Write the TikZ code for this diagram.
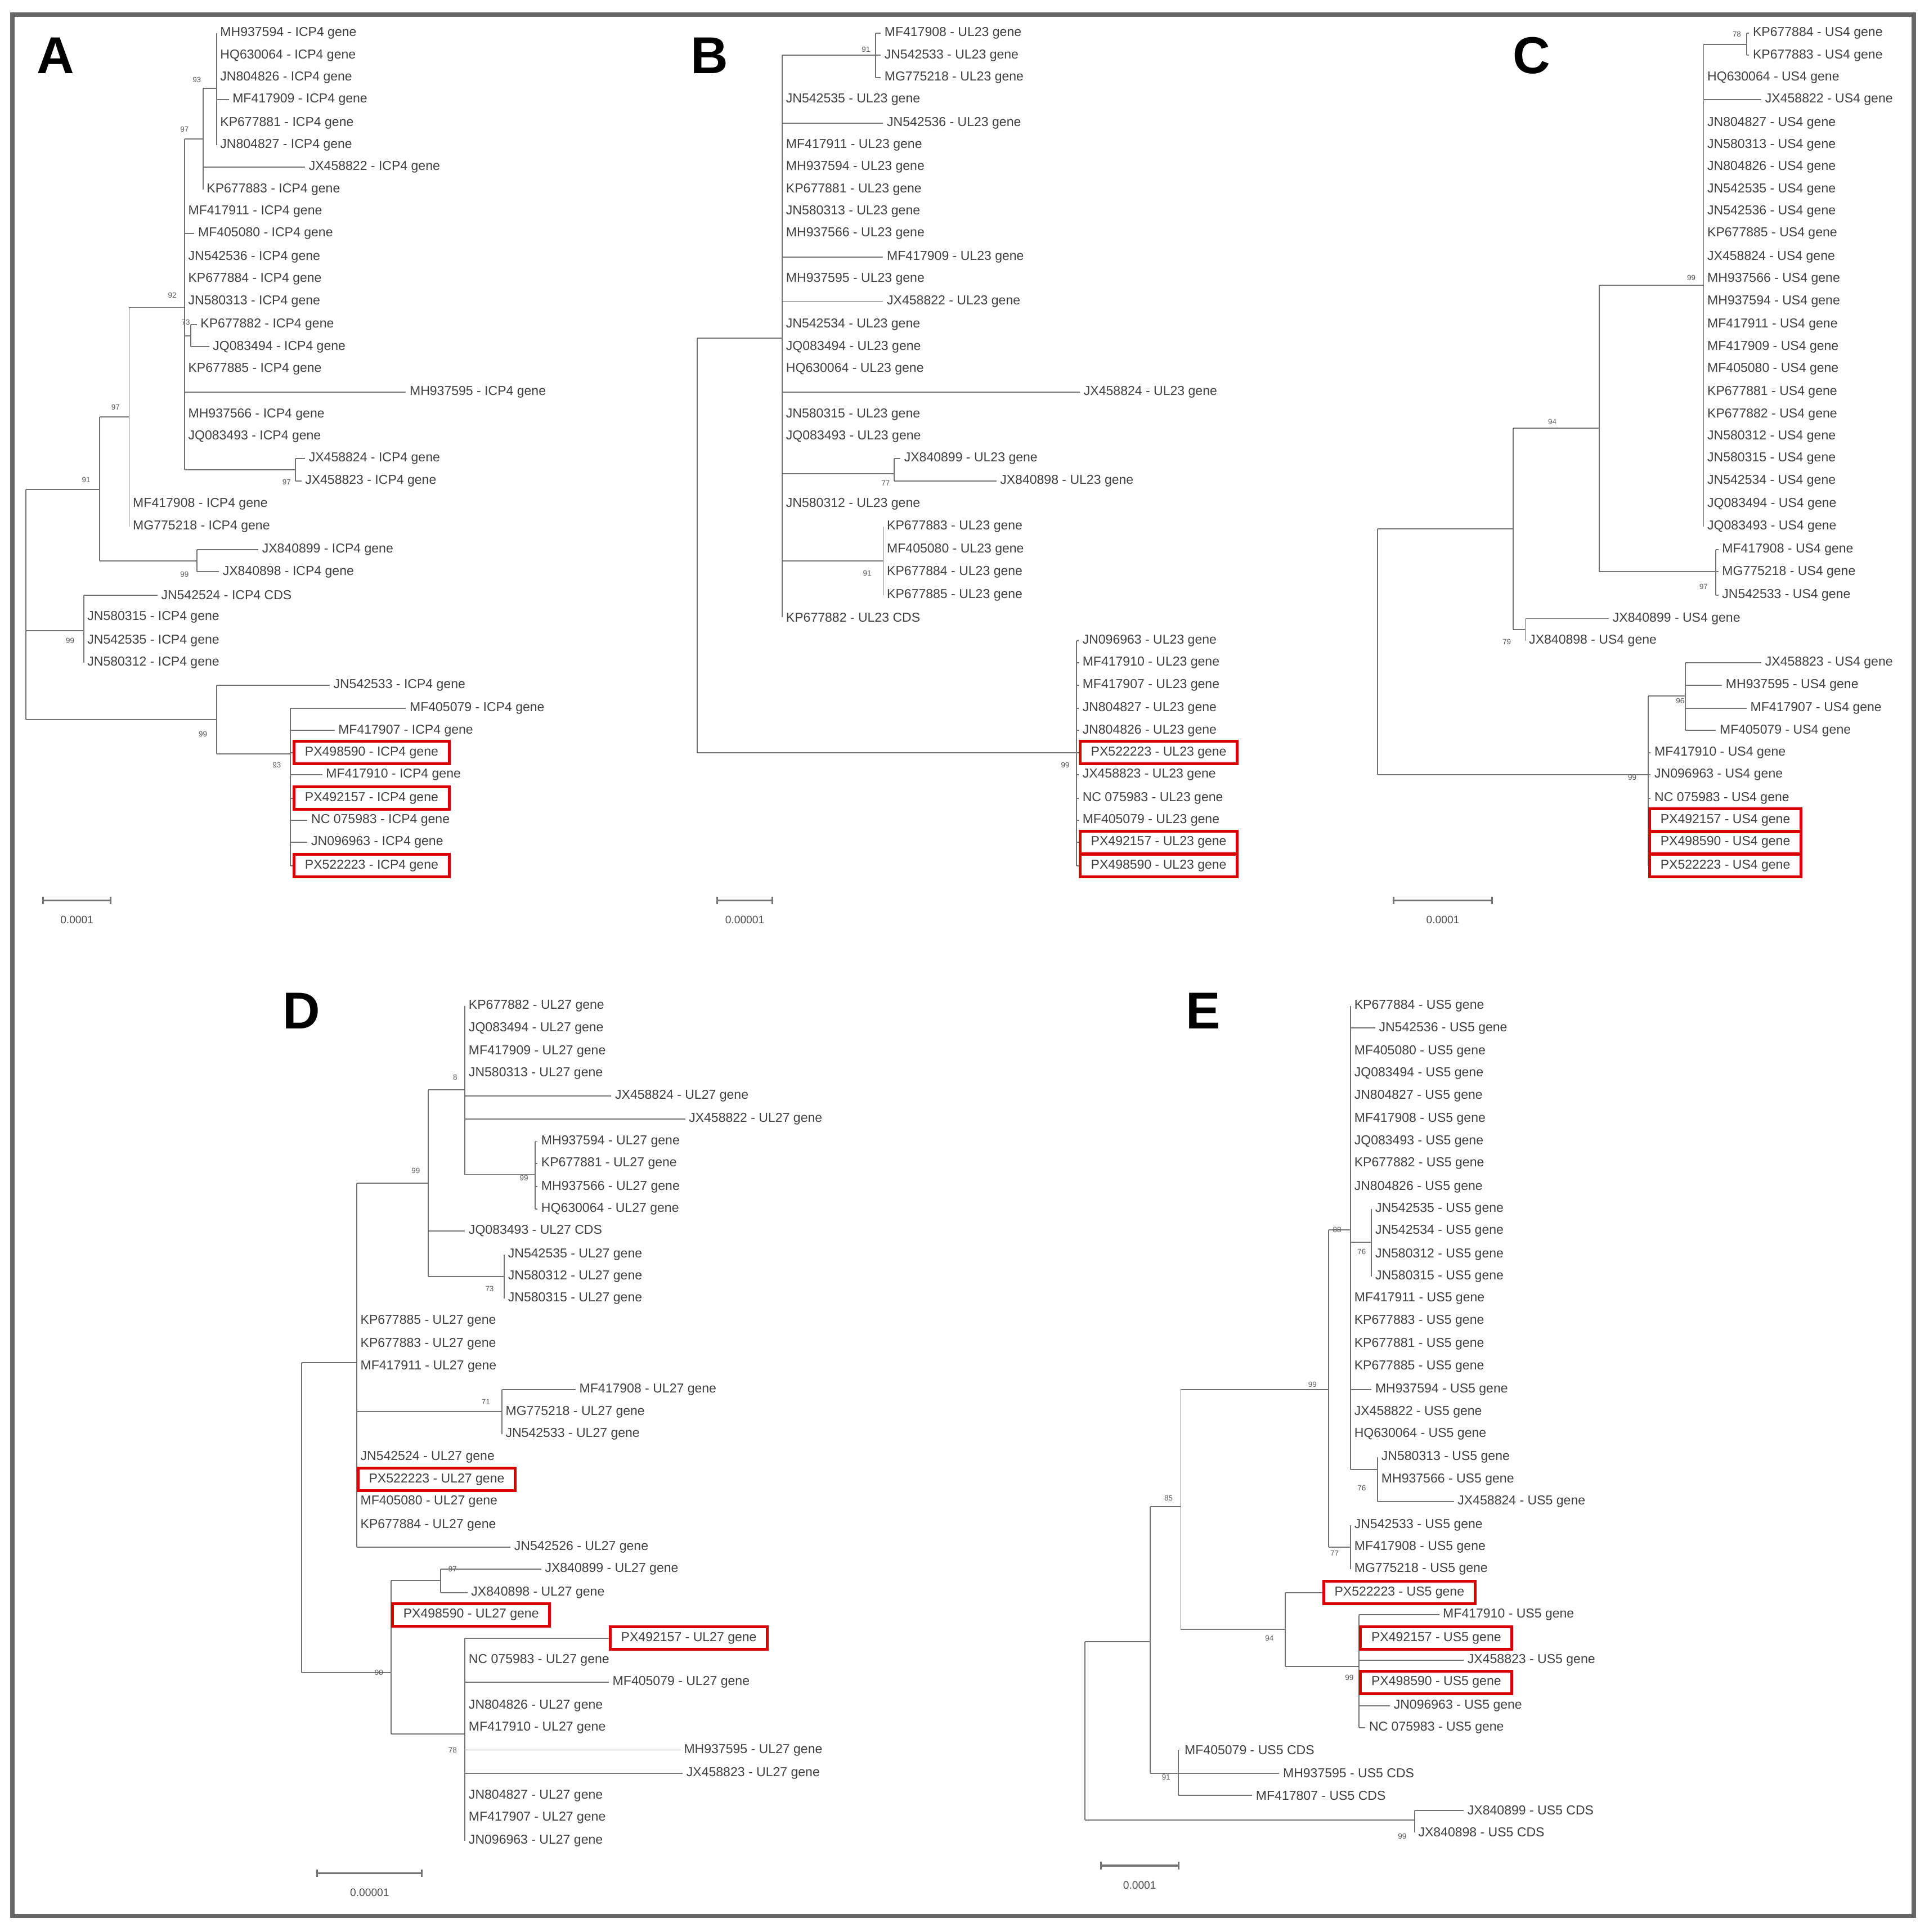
\documentclass[tikz,border=0pt]{standalone}
\usepackage{fontspec}
\setmainfont{Liberation Sans}
\newcounter{lf}
\tikzset{
 br/.style={draw=black!55,line width=0.5pt},
 lab/.style={anchor=west,inner sep=1.5pt,text=black!75,font=\fontsize{6}{7}\selectfont},
 labbox/.style={lab,draw=red!85!black,line width=1.3pt,inner xsep=5pt,inner ysep=2.5pt},
 bsl/.style={text=black!65,font=\fontsize{3.5}{4}\selectfont,inner sep=0.5pt},
 pl/.style={font=\fontsize{24}{26}\selectfont\bfseries,inner sep=0pt},
 sc/.style={text=black!70,font=\fontsize{5}{6}\selectfont,inner sep=1pt}
}
\newcommand\lf[4]{\stepcounter{lf}\draw[br] (#1,#3) -- (#2,#3) node[lab,name=n\arabic{lf}]{#4};}
\newcommand\lfb[4]{\stepcounter{lf}\draw[br] (#1,#3) -- (#2,#3) node[labbox,name=n\arabic{lf}]{#4};}
\newcommand\vl[3]{\draw[br] (#1,#2) -- (#1,#3);}
\newcommand\hl[3]{\draw[br] (#1,#3) -- (#2,#3);}
\newcommand\bs[3]{\stepcounter{lf}\node[bsl,name=n\arabic{lf}] at (#1,#2) {#3};}
\newcommand\scb[4]{\stepcounter{lf}\draw[black!55,line width=0.8pt] (#1,#3-3) -- (#1,#3+3) (#1,#3) -- (#2,#3) (#2,#3-3) -- (#2,#3+3);
 \node[sc,name=n\arabic{lf}] at ({(#1+#2)/2},#3+16) {#4};}
\begin{document}
\begin{tikzpicture}[x=0.02cm,y=-0.02cm]
\useasboundingbox (0,0) rectangle (1568,1571);
\fill[white] (0,0) rectangle (1568,1571);
\draw[black!60,line width=2pt] (10,12) rectangle (1556,1558);
% ===================== A =====================
\node[pl,name=pA] at (45,45) {A};
\def\g{ - ICP4 gene}
\vl{176}{27}{118}
\lf{176}{176}{27}{MH937594\g}
\lf{176}{176}{45}{HQ630064\g}
\lf{176}{176}{63}{JN804826\g}
\lf{176}{186}{81}{MF417909\g}
\lf{176}{176}{100}{KP677881\g}
\lf{176}{176}{118}{JN804827\g}
\hl{165}{176}{72}
\vl{165}{72}{154}
\lf{165}{248}{136}{JX458822\g}
\lf{165}{165}{154}{KP677883\g}
\bs{160}{65}{93}
\hl{150}{165}{113}
\bs{150}{105}{97}
\vl{150}{113}{382}
\lf{150}{150}{172}{MF417911\g}
\lf{150}{158}{190}{MF405080\g}
\lf{150}{150}{209}{JN542536\g}
\lf{150}{150}{227}{KP677884\g}
\lf{150}{150}{245}{JN580313\g}
\hl{150}{155}{273}
\vl{155}{264}{282}
\lf{155}{160}{264}{KP677882\g}
\lf{155}{170}{282}{JQ083494\g}
\bs{151}{262}{73}
\lf{150}{150}{300}{KP677885\g}
\lf{150}{330}{319}{MH937595\g}
\lf{150}{150}{337}{MH937566\g}
\lf{150}{150}{355}{JQ083493\g}
\hl{150}{240}{382}
\vl{240}{373}{391}
\lf{240}{248}{373}{JX458824\g}
\lf{240}{245}{391}{JX458823\g}
\bs{233}{392}{97}
\hl{105}{150}{250}
\bs{140}{240}{92}
\vl{105}{250}{428}
\lf{105}{105}{410}{MF417908\g}
\lf{105}{105}{428}{MG775218\g}
\hl{81}{105}{339}
\bs{94}{331}{97}
\vl{81}{339}{456}
\hl{81}{160}{456}
\vl{160}{447}{465}
\lf{160}{210}{447}{JX840899\g}
\lf{160}{178}{465}{JX840898\g}
\bs{150}{467}{99}
\hl{21}{81}{398}
\bs{70}{390}{91}
\vl{21}{398}{585}
\hl{21}{68}{513}
\vl{68}{484}{539}
\lf{68}{128}{484}{JN542524 - ICP4 CDS}
\lf{68}{68}{502}{JN580315\g}
\lf{68}{68}{521}{JN542535\g}
\lf{68}{68}{539}{JN580312\g}
\bs{57}{521}{99}
\hl{21}{176}{585}
\bs{165}{597}{99}
\vl{176}{557}{613}
\lf{176}{268}{557}{JN542533\g}
\hl{176}{236}{613}
\bs{225}{622}{93}
\vl{236}{576}{704}
\lf{236}{330}{576}{MF405079\g}
\lf{236}{272}{594}{MF417907\g}
\lfb{236}{238}{612}{PX498590\g}
\lf{236}{262}{630}{MF417910\g}
\lfb{236}{238}{649}{PX492157\g}
\lf{236}{250}{667}{NC 075983\g}
\lf{236}{250}{685}{JN096963\g}
\lfb{236}{238}{704}{PX522223\g}
\scb{35}{90}{732}{0.0001}
% ===================== B =====================
\node[pl,name=pB] at (577,45) {B};
\def\g{ - UL23 gene}
\vl{712}{27}{63}
\lf{712}{716}{27}{MF417908\g}
\lf{712}{716}{45}{JN542533\g}
\lf{712}{716}{63}{MG775218\g}
\bs{704}{40}{91}
\hl{636}{712}{45}
\vl{636}{45}{502}
\lf{636}{636}{81}{JN542535\g}
\lf{636}{718}{100}{JN542536\g}
\lf{636}{636}{118}{MF417911\g}
\lf{636}{636}{136}{MH937594\g}
\lf{636}{636}{154}{KP677881\g}
\lf{636}{636}{172}{JN580313\g}
\lf{636}{636}{190}{MH937566\g}
\lf{636}{718}{209}{MF417909\g}
\lf{636}{636}{227}{MH937595\g}
\lf{636}{718}{245}{JX458822\g}
\lf{636}{636}{264}{JN542534\g}
\lf{636}{636}{282}{JQ083494\g}
\lf{636}{636}{300}{HQ630064\g}
\lf{636}{878}{319}{JX458824\g}
\lf{636}{636}{337}{JN580315\g}
\lf{636}{636}{355}{JQ083493\g}
\hl{636}{727}{385}
\vl{727}{373}{391}
\lf{727}{732}{373}{JX840899\g}
\lf{727}{810}{391}{JX840898\g}
\bs{720}{393}{77}
\lf{636}{636}{410}{JN580312\g}
\hl{636}{718}{456}
\vl{718}{428}{484}
\lf{718}{718}{428}{KP677883\g}
\lf{718}{718}{447}{MF405080\g}
\lf{718}{718}{465}{KP677884\g}
\lf{718}{718}{484}{KP677885\g}
\bs{705}{466}{91}
\lf{636}{636}{502}{KP677882 - UL23 CDS}
\hl{567}{636}{275}
\vl{567}{275}{612}
\hl{567}{875}{612}
\bs{866}{622}{99}
\vl{875}{521}{704}
\lf{875}{877}{521}{JN096963\g}
\lf{875}{877}{539}{MF417910\g}
\lf{875}{877}{557}{MF417907\g}
\lf{875}{877}{576}{JN804827\g}
\lf{875}{877}{594}{JN804826\g}
\lfb{875}{877}{612}{PX522223\g}
\lf{875}{877}{630}{JX458823\g}
\lf{875}{877}{649}{NC 075983\g}
\lf{875}{877}{667}{MF405079\g}
\lfb{875}{877}{685}{PX492157\g}
\lfb{875}{877}{704}{PX498590\g}
\scb{583}{628}{732}{0.00001}
% ===================== C =====================
\node[pl,name=pC] at (1245,45) {C};
\def\g{ - US4 gene}
\hl{1385}{1420}{36}
\vl{1420}{27}{45}
\lf{1420}{1422}{27}{KP677884\g}
\lf{1420}{1422}{45}{KP677883\g}
\bs{1412}{28}{78}
\vl{1385}{36}{428}
\lf{1385}{1385}{63}{HQ630064\g}
\lf{1385}{1432}{81}{JX458822\g}
\lf{1385}{1385}{100}{JN804827\g}
\lf{1385}{1385}{118}{JN580313\g}
\lf{1385}{1385}{136}{JN804826\g}
\lf{1385}{1385}{154}{JN542535\g}
\lf{1385}{1385}{172}{JN542536\g}
\lf{1385}{1385}{190}{KP677885\g}
\lf{1385}{1385}{209}{JX458824\g}
\lf{1385}{1385}{227}{MH937566\g}
\lf{1385}{1385}{245}{MH937594\g}
\lf{1385}{1385}{264}{MF417911\g}
\lf{1385}{1385}{282}{MF417909\g}
\lf{1385}{1385}{300}{MF405080\g}
\lf{1385}{1385}{319}{KP677881\g}
\lf{1385}{1385}{337}{KP677882\g}
\lf{1385}{1385}{355}{JN580312\g}
\lf{1385}{1385}{373}{JN580315\g}
\lf{1385}{1385}{391}{JN542534\g}
\lf{1385}{1385}{410}{JQ083494\g}
\lf{1385}{1385}{428}{JQ083493\g}
\hl{1300}{1385}{232}
\bs{1375}{226}{99}
\vl{1300}{232}{465}
\hl{1300}{1395}{465}
\vl{1395}{447}{484}
\lf{1395}{1397}{447}{MF417908\g}
\lf{1395}{1397}{465}{MG775218\g}
\lf{1395}{1397}{484}{JN542533\g}
\bs{1385}{477}{97}
\hl{1230}{1300}{348}
\bs{1262}{343}{94}
\vl{1230}{348}{512}
\hl{1230}{1240}{512}
\vl{1240}{503}{521}
\lf{1240}{1308}{503}{JX840899\g}
\lf{1240}{1240}{521}{JX840898\g}
\bs{1225}{522}{79}
\hl{1120}{1230}{430}
\vl{1120}{430}{630}
\hl{1120}{1340}{630}
\bs{1327}{632}{99}
\vl{1340}{566}{704}
\hl{1340}{1370}{566}
\vl{1370}{539}{594}
\lf{1370}{1432}{539}{JX458823\g}
\lf{1370}{1400}{557}{MH937595\g}
\lf{1370}{1420}{576}{MF417907\g}
\lf{1370}{1395}{594}{MF405079\g}
\bs{1366}{570}{96}
\lf{1340}{1342}{612}{MF417910\g}
\lf{1340}{1342}{630}{JN096963\g}
\lf{1340}{1342}{649}{NC 075983\g}
\lfb{1340}{1340}{667}{PX492157\g}
\lfb{1340}{1340}{685}{PX498590\g}
\lfb{1340}{1340}{704}{PX522223\g}
\scb{1133}{1213}{732}{0.0001}
% ===================== D =====================
\node[pl,name=pD] at (245,822) {D};
\def\g{ - UL27 gene}
\vl{378}{818}{955}
\lf{378}{378}{818}{KP677882\g}
\lf{378}{378}{836}{JQ083494\g}
\lf{378}{378}{855}{MF417909\g}
\lf{378}{378}{873}{JN580313\g}
\lf{378}{497}{891}{JX458824\g}
\lf{378}{557}{910}{JX458822\g}
\bs{370}{876}{8}
\hl{378}{435}{955}
\vl{435}{928}{983}
\lf{435}{437}{928}{MH937594\g}
\lf{435}{437}{946}{KP677881\g}
\lf{435}{437}{965}{MH937566\g}
\lf{435}{437}{983}{HQ630064\g}
\bs{426}{958}{99}
\hl{348}{378}{886}
\vl{348}{886}{1038}
\lf{348}{378}{1001}{JQ083493 - UL27 CDS}
\hl{348}{410}{1038}
\vl{410}{1020}{1056}
\lf{410}{410}{1020}{JN542535\g}
\lf{410}{410}{1038}{JN580312\g}
\lf{410}{410}{1056}{JN580315\g}
\bs{398}{1048}{73}
\hl{290}{348}{962}
\bs{338}{952}{99}
\vl{290}{962}{1258}
\lf{290}{290}{1074}{KP677885\g}
\lf{290}{290}{1093}{KP677883\g}
\lf{290}{290}{1111}{MF417911\g}
\hl{290}{408}{1148}
\vl{408}{1130}{1166}
\lf{408}{468}{1130}{MF417908\g}
\lf{408}{408}{1148}{MG775218\g}
\lf{408}{408}{1166}{JN542533\g}
\bs{395}{1140}{71}
\lf{290}{290}{1185}{JN542524\g}
\lfb{290}{290}{1203}{PX522223\g}
\lf{290}{290}{1221}{MF405080\g}
\lf{290}{290}{1240}{KP677884\g}
\lf{290}{415}{1258}{JN542526\g}
\hl{245}{290}{1108}
\vl{245}{1108}{1360}
\hl{245}{318}{1360}
\bs{308}{1360}{90}
\vl{318}{1285}{1410}
\hl{318}{358}{1285}
\vl{358}{1276}{1295}
\lf{358}{440}{1276}{JX840899\g}
\lf{358}{380}{1295}{JX840898\g}
\bs{368}{1276}{97}
\lfb{318}{318}{1313}{PX498590\g}
\hl{318}{378}{1410}
\vl{378}{1332}{1497}
\lfb{378}{495}{1332}{PX492157\g}
\lf{378}{378}{1350}{NC 075983\g}
\lf{378}{495}{1368}{MF405079\g}
\lf{378}{378}{1387}{JN804826\g}
\lf{378}{378}{1405}{MF417910\g}
\lf{378}{553}{1423}{MH937595\g}
\lf{378}{555}{1442}{JX458823\g}
\lf{378}{378}{1460}{JN804827\g}
\lf{378}{378}{1478}{MF417907\g}
\lf{378}{378}{1497}{JN096963\g}
\bs{368}{1423}{78}
\scb{258}{343}{1523}{0.00001}
% ===================== E =====================
\node[pl,name=pE] at (978,822) {E};
\def\g{ - US5 gene}
\vl{1098}{818}{1195}
\lf{1098}{1098}{818}{KP677884\g}
\lf{1098}{1118}{836}{JN542536\g}
\lf{1098}{1098}{855}{MF405080\g}
\lf{1098}{1098}{873}{JQ083494\g}
\lf{1098}{1098}{891}{JN804827\g}
\lf{1098}{1098}{910}{MF417908\g}
\lf{1098}{1098}{928}{JQ083493\g}
\lf{1098}{1098}{946}{KP677882\g}
\lf{1098}{1098}{965}{JN804826\g}
\hl{1098}{1115}{1010}
\vl{1115}{983}{1038}
\lf{1115}{1115}{983}{JN542535\g}
\lf{1115}{1115}{1001}{JN542534\g}
\lf{1115}{1115}{1020}{JN580312\g}
\lf{1115}{1115}{1038}{JN580315\g}
\bs{1107}{1018}{76}
\lf{1098}{1098}{1056}{MF417911\g}
\lf{1098}{1098}{1074}{KP677883\g}
\lf{1098}{1098}{1093}{KP677881\g}
\lf{1098}{1098}{1111}{KP677885\g}
\lf{1098}{1115}{1130}{MH937594\g}
\lf{1098}{1098}{1148}{JX458822\g}
\lf{1098}{1098}{1166}{HQ630064\g}
\hl{1098}{1120}{1195}
\vl{1120}{1185}{1221}
\lf{1120}{1120}{1185}{JN580313\g}
\lf{1120}{1120}{1203}{MH937566\g}
\lf{1120}{1182}{1221}{JX458824\g}
\bs{1107}{1210}{76}
\hl{1080}{1098}{1000}
\bs{1087}{1000}{88}
\vl{1080}{1000}{1258}
\hl{1080}{1098}{1258}
\vl{1098}{1240}{1276}
\lf{1098}{1098}{1240}{JN542533\g}
\lf{1098}{1098}{1258}{MF417908\g}
\lf{1098}{1098}{1276}{MG775218\g}
\bs{1085}{1263}{77}
\hl{960}{1080}{1130}
\bs{1067}{1126}{99}
\vl{960}{1130}{1325}
\hl{960}{1045}{1325}
\bs{1032}{1332}{94}
\vl{1045}{1295}{1355}
\lfb{1045}{1075}{1295}{PX522223\g}
\hl{1045}{1105}{1355}
\vl{1105}{1313}{1405}
\lf{1105}{1170}{1313}{MF417910\g}
\lfb{1105}{1105}{1332}{PX492157\g}
\lf{1105}{1190}{1350}{JX458823\g}
\lfb{1105}{1105}{1368}{PX498590\g}
\lf{1105}{1130}{1387}{JN096963\g}
\lf{1105}{1110}{1405}{NC 075983\g}
\bs{1097}{1364}{99}
\hl{935}{960}{1225}
\bs{950}{1218}{85}
\vl{935}{1225}{1442}
\hl{935}{958}{1442}
\vl{958}{1423}{1460}
\lf{958}{960}{1423}{MF405079 - US5 CDS}
\lf{958}{1040}{1442}{MH937595 - US5 CDS}
\lf{958}{1018}{1460}{MF417807 - US5 CDS}
\bs{948}{1445}{91}
\hl{882}{935}{1335}
\vl{882}{1335}{1480}
\hl{882}{1150}{1480}
\vl{1150}{1472}{1490}
\lf{1150}{1190}{1472}{JX840899 - US5 CDS}
\lf{1150}{1150}{1490}{JX840898 - US5 CDS}
\bs{1140}{1493}{99}
\scb{895}{958}{1517}{0.0001}
\end{tikzpicture}
\end{document}
